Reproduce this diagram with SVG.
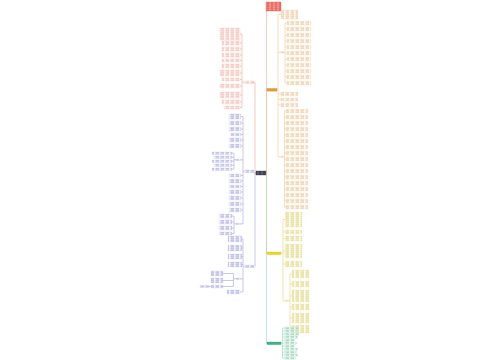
<svg xmlns="http://www.w3.org/2000/svg" width="500" height="360" viewBox="0 0 500 360">
<defs>
<pattern id="pr" width="5" height="2" patternUnits="userSpaceOnUse"><rect width="5" height="2" fill="#fffafa"/><rect x="0.5" y="0.6" width="3.6" height="0.7" fill="#e8907f"/></pattern>
<pattern id="po" width="5" height="2" patternUnits="userSpaceOnUse"><rect width="5" height="2" fill="#fffcf6"/><rect x="0.5" y="0.6" width="3.6" height="0.7" fill="#dca068"/></pattern>
<pattern id="py" width="5" height="2" patternUnits="userSpaceOnUse"><rect width="5" height="2" fill="#fffef2"/><rect x="0.5" y="0.6" width="3.6" height="0.7" fill="#cdb840"/></pattern>
<pattern id="pb" width="5" height="2" patternUnits="userSpaceOnUse"><rect width="5" height="2" fill="#f9f9fe"/><rect x="0.5" y="0.6" width="3.6" height="0.7" fill="#7474c4"/></pattern>
<pattern id="pg" width="5" height="2" patternUnits="userSpaceOnUse"><rect width="5" height="2" fill="#f6fcf9"/><rect x="0.5" y="0.6" width="3.6" height="0.7" fill="#4aa884"/></pattern>
<pattern id="pw" width="4" height="1.8" patternUnits="userSpaceOnUse"><rect width="4" height="1.8" fill="#e5453a"/><rect x="0.4" y="0.5" width="3.2" height="0.7" fill="#ffffff"/></pattern>
<pattern id="pk" width="4" height="1.8" patternUnits="userSpaceOnUse"><rect width="4" height="1.8" fill="#1e2030"/><rect x="0.4" y="0.6" width="3.2" height="0.6" fill="#d0d0d8"/></pattern>
</defs>
<style>
g.n > rect{stroke-width:.3}
g.r > rect{fill:url(#pr);stroke:#f4c4bc}
g.o > rect{fill:url(#po);stroke:#f6dcb8}
g.y > rect{fill:url(#py);stroke:#f0e6a8}
g.b > rect{fill:url(#pb);stroke:#c8c8f0}
g.g > rect{fill:url(#pg);stroke:#bce4d4}
#connectors path{fill:none;stroke-width:.6}
.cr{stroke:#eea89c}.co{stroke:#f2c890}.cy{stroke:#e6d47a}.cb{stroke:#a4a4e0}.cg{stroke:#98d4bc}
</style>
<rect width="500" height="360" fill="#ffffff"/>
<g id="connectors">
<path class="cr" d="M266.5,173V11"/>
<path class="co" d="M266.5,173V89.8H267"/>
<path class="cy" d="M266.5,173V253.3H267"/>
<path class="cg" d="M266.5,175V343.3H267"/>
<path class="cr" d="M256,173H255V82.3H254"/>
<path class="cb" d="M256,173H254"/>
<path class="cb" d="M256,173H255V266.3"/>
<path class="co" d="M277,89.8H278M278,14.5V156.8M278,14.5H281M278,52.3H280M284,52.3H285M285,23V83M285,23H287M285,29H287M285,35H287M285,41H287M285,47H287M285,53H287M285,59H287M285,65H287M285,71H287M285,77H287M285,83H287M278,94H281M278,99.5H281M278,105H281M278,156.8H279.5M283.5,156.8H284.5M284.5,111V207M284.5,111H286M284.5,117H286M284.5,123H286M284.5,129H286M284.5,135H286M284.5,141H286M284.5,147H286M284.5,153H286M284.5,159H286M284.5,165H286M284.5,171H286M284.5,177H286M284.5,183H286M284.5,189H286M284.5,195H286M284.5,201H286M284.5,207H286"/>
<path class="cy" d="M281,253.3H283M283,219.5V300.8M283,219.5H285M283,232H285M283,238.5H285M283,251H285M283,264H285M283,300.8H284.5M288.5,300.8H290M290,274V329M290,274H292M290,284H292M290,296H292M290,307H292M290,318H292M290,329H292"/>
<path class="cg" d="M281,343.3H282.5M282.5,328.1V358.1M282.5,328.1H284.5M282.5,331.1H284.5M282.5,334.1H284.5M282.5,337.1H284.5M282.5,340.1H284.5M282.5,343.1H284.5M282.5,346.1H284.5M282.5,349.1H284.5M282.5,352.1H284.5M282.5,355.1H284.5M282.5,358.1H284.5"/>
<path class="cr" d="M244,82.3H242M242,34V107.5M242,34H240M242,43H240M242,49H240M242,55H240M242,60.5H240M242,66H240M242,73H240M242,79.5H240M242,86H240M242,95H240M242,102H240M242,107.5H240"/>
<path class="cb" d="M244,171.3H243M243,116.5V223.8M243,116.5H241M243,123H241M243,129H241M243,134.5H241M243,140H241M243,146H241M243,159.8H241M236,159.8H234M234,153.2V169.2M234,153.2H232M234,157.2H232M234,161.2H232M234,165.2H232M234,169.2H232M243,175.5H241M243,181H241M243,186.5H241M243,192H241M243,198H241M243,204H241M243,210H241M243,223.8H241M236,223.8H234M234,216V233.5M234,216H232M234,222H232M234,228H232M234,233.5H232"/>
<path class="cb" d="M244,266.3H243M243,239V292M243,239H242M243,248H242M243,256.5H242M243,264.5H242M243,278.8H241M236,278.8H233.5M233.5,273.5V286.5M233.5,273.5H223M233.5,280.5H223M233.5,286.5H223M211,286.5H209M243,292H240"/>
</g>
<g id="center" class="n"><rect x="256" y="171" width="10" height="4" fill="url(#pk)" stroke="#1e2030"/></g>
<g id="title" class="n"><rect x="266" y="2" width="15" height="9" fill="url(#pw)" stroke="#e5453a"/></g>
<g id="branch-orange" class="n"><rect x="267" y="88.5" width="10" height="2.6" fill="#e49a3a" stroke="#c88020"/></g>
<g id="branch-yellow" class="n"><rect x="267" y="252" width="14" height="2.6" fill="#f0d424" stroke="#d8bc10"/></g>
<g id="branch-green" class="n"><rect x="267" y="342" width="14" height="2.6" fill="#3cb48a" stroke="#2a9a72"/></g>
<g id="branch-red" class="n r"><rect x="244" y="81" width="10" height="2.6"/></g>
<g id="branch-blue1" class="n b"><rect x="244" y="170" width="10" height="2.6"/></g>
<g id="branch-blue2" class="n b"><rect x="244" y="265" width="11" height="2.6"/></g>
<g id="o-a" class="n o"><rect x="281" y="10" width="17" height="9"/></g>
<g id="o-b" class="n o"><rect x="280" y="51.5" width="4" height="1.6"/></g>
<g id="o-b1" class="n o"><rect x="287" y="21" width="24" height="4"/></g>
<g id="o-b2" class="n o"><rect x="287" y="27" width="24" height="4"/></g>
<g id="o-b3" class="n o"><rect x="287" y="33" width="24" height="4"/></g>
<g id="o-b4" class="n o"><rect x="287" y="39" width="24" height="4"/></g>
<g id="o-b5" class="n o"><rect x="287" y="45" width="24" height="4"/></g>
<g id="o-b6" class="n o"><rect x="287" y="51" width="24" height="4"/></g>
<g id="o-b7" class="n o"><rect x="287" y="57" width="24" height="4"/></g>
<g id="o-b8" class="n o"><rect x="287" y="63" width="24" height="4"/></g>
<g id="o-b9" class="n o"><rect x="287" y="69" width="24" height="4"/></g>
<g id="o-b10" class="n o"><rect x="287" y="75" width="24" height="4"/></g>
<g id="o-b11" class="n o"><rect x="287" y="81" width="24" height="4"/></g>
<g id="o-c" class="n o"><rect x="281" y="92" width="17" height="4"/></g>
<g id="o-d" class="n o"><rect x="281" y="98" width="17" height="3"/></g>
<g id="o-e" class="n o"><rect x="281" y="103" width="17" height="4"/></g>
<g id="o-f" class="n o"><rect x="279.5" y="156" width="4" height="1.6"/></g>
<g id="o-f1" class="n o"><rect x="286" y="109" width="22" height="4"/></g>
<g id="o-f2" class="n o"><rect x="286" y="115" width="22" height="4"/></g>
<g id="o-f3" class="n o"><rect x="286" y="121" width="22" height="4"/></g>
<g id="o-f4" class="n o"><rect x="286" y="127" width="22" height="4"/></g>
<g id="o-f5" class="n o"><rect x="286" y="133" width="22" height="4"/></g>
<g id="o-f6" class="n o"><rect x="286" y="139" width="22" height="4"/></g>
<g id="o-f7" class="n o"><rect x="286" y="145" width="22" height="4"/></g>
<g id="o-f8" class="n o"><rect x="286" y="151" width="22" height="4"/></g>
<g id="o-f9" class="n o"><rect x="286" y="157" width="22" height="4"/></g>
<g id="o-f10" class="n o"><rect x="286" y="163" width="22" height="4"/></g>
<g id="o-f11" class="n o"><rect x="286" y="169" width="22" height="4"/></g>
<g id="o-f12" class="n o"><rect x="286" y="175" width="22" height="4"/></g>
<g id="o-f13" class="n o"><rect x="286" y="181" width="22" height="4"/></g>
<g id="o-f14" class="n o"><rect x="286" y="187" width="22" height="4"/></g>
<g id="o-f15" class="n o"><rect x="286" y="193" width="22" height="4"/></g>
<g id="o-f16" class="n o"><rect x="286" y="199" width="22" height="4"/></g>
<g id="o-f17" class="n o"><rect x="286" y="205" width="22" height="4"/></g>
<g id="y-1" class="n y"><rect x="285" y="212" width="17" height="15"/></g>
<g id="y-2" class="n y"><rect x="285" y="230" width="17" height="4"/></g>
<g id="y-3" class="n y"><rect x="285" y="236" width="17" height="5"/></g>
<g id="y-4" class="n y"><rect x="285" y="244" width="17" height="14"/></g>
<g id="y-5" class="n y"><rect x="285" y="261" width="17" height="6"/></g>
<g id="y-s" class="n y"><rect x="284.5" y="300" width="4" height="1.6"/></g>
<g id="y-s1" class="n y"><rect x="292" y="270" width="17" height="8"/></g>
<g id="y-s2" class="n y"><rect x="292" y="281" width="17" height="6"/></g>
<g id="y-s3" class="n y"><rect x="292" y="290" width="17" height="12"/></g>
<g id="y-s4" class="n y"><rect x="292" y="304" width="17" height="6"/></g>
<g id="y-s5" class="n y"><rect x="292" y="313" width="17" height="10"/></g>
<g id="y-s6" class="n y"><rect x="292" y="325" width="17" height="8"/></g>
<g id="g-1" class="n g"><rect x="284.5" y="327" width="14" height="2.2"/></g>
<g id="g-2" class="n g"><rect x="284.5" y="330" width="12" height="2.2"/></g>
<g id="g-3" class="n g"><rect x="284.5" y="333" width="14" height="2.2"/></g>
<g id="g-4" class="n g"><rect x="284.5" y="336" width="13" height="2.2"/></g>
<g id="g-5" class="n g"><rect x="284.5" y="339" width="10" height="2.2"/></g>
<g id="g-6" class="n g"><rect x="284.5" y="342" width="12" height="2.2"/></g>
<g id="g-7" class="n g"><rect x="284.5" y="345" width="10" height="2.2"/></g>
<g id="g-8" class="n g"><rect x="284.5" y="348" width="13" height="2.2"/></g>
<g id="g-9" class="n g"><rect x="284.5" y="351" width="12" height="2.2"/></g>
<g id="g-10" class="n g"><rect x="284.5" y="354" width="13" height="2.2"/></g>
<g id="g-11" class="n g"><rect x="284.5" y="357" width="11" height="2.2"/></g>
<g id="r-1" class="n r"><rect x="220" y="28" width="20" height="12"/></g>
<g id="r-2" class="n r"><rect x="222" y="41" width="18" height="4"/></g>
<g id="r-3" class="n r"><rect x="222" y="47" width="18" height="4"/></g>
<g id="r-4" class="n r"><rect x="222" y="53" width="18" height="4"/></g>
<g id="r-5" class="n r"><rect x="222" y="59" width="18" height="3"/></g>
<g id="r-6" class="n r"><rect x="222" y="64" width="18" height="4"/></g>
<g id="r-7" class="n r"><rect x="220" y="70" width="20" height="6"/></g>
<g id="r-8" class="n r"><rect x="222" y="78" width="18" height="3"/></g>
<g id="r-9" class="n r"><rect x="220" y="84" width="20" height="4"/></g>
<g id="r-10" class="n r"><rect x="220" y="92" width="20" height="6"/></g>
<g id="r-11" class="n r"><rect x="222" y="100" width="18" height="4"/></g>
<g id="r-12" class="n r"><rect x="224" y="106" width="16" height="3"/></g>
<g id="b-1" class="n b"><rect x="229" y="114" width="12" height="5"/></g>
<g id="b-2" class="n b"><rect x="229" y="121" width="12" height="4"/></g>
<g id="b-3" class="n b"><rect x="229" y="127" width="12" height="4"/></g>
<g id="b-4" class="n b"><rect x="231" y="133" width="10" height="3"/></g>
<g id="b-5" class="n b"><rect x="229" y="138" width="12" height="4"/></g>
<g id="b-6" class="n b"><rect x="229" y="144" width="12" height="4"/></g>
<g id="b-s" class="n b"><rect x="236" y="159" width="5" height="1.6"/></g>
<g id="b-s1" class="n b"><rect x="212" y="152" width="20" height="2.5"/></g>
<g id="b-s2" class="n b"><rect x="214" y="156" width="18" height="2.5"/></g>
<g id="b-s3" class="n b"><rect x="212" y="160" width="20" height="2.5"/></g>
<g id="b-s4" class="n b"><rect x="214" y="164" width="18" height="2.5"/></g>
<g id="b-s5" class="n b"><rect x="212" y="168" width="20" height="2.5"/></g>
<g id="b-7" class="n b"><rect x="229" y="174" width="12" height="3"/></g>
<g id="b-8" class="n b"><rect x="229" y="179" width="12" height="4"/></g>
<g id="b-9" class="n b"><rect x="229" y="185" width="12" height="3"/></g>
<g id="b-10" class="n b"><rect x="229" y="190" width="12" height="4"/></g>
<g id="b-11" class="n b"><rect x="229" y="196" width="12" height="4"/></g>
<g id="b-12" class="n b"><rect x="229" y="202" width="12" height="4"/></g>
<g id="b-13" class="n b"><rect x="229" y="208" width="12" height="4"/></g>
<g id="b-t" class="n b"><rect x="236" y="223" width="5" height="1.6"/></g>
<g id="b-t1" class="n b"><rect x="219" y="214" width="13" height="4"/></g>
<g id="b-t2" class="n b"><rect x="219" y="220" width="13" height="4"/></g>
<g id="b-t3" class="n b"><rect x="219" y="226" width="13" height="4"/></g>
<g id="b-t4" class="n b"><rect x="219" y="232" width="13" height="3"/></g>
<g id="d-1" class="n b"><rect x="228" y="236" width="14" height="6"/></g>
<g id="d-2" class="n b"><rect x="228" y="245" width="14" height="6"/></g>
<g id="d-3" class="n b"><rect x="228" y="254" width="14" height="5"/></g>
<g id="d-4" class="n b"><rect x="228" y="262" width="14" height="5"/></g>
<g id="d-s" class="n b"><rect x="236" y="278" width="5" height="1.6"/></g>
<g id="d-s1" class="n b"><rect x="211" y="271" width="12" height="5"/></g>
<g id="d-s2" class="n b"><rect x="211" y="278" width="12" height="5"/></g>
<g id="d-s3" class="n b"><rect x="211" y="285" width="12" height="3"/></g>
<g id="d-s4" class="n b"><rect x="200" y="285.5" width="9" height="2"/></g>
<g id="d-5" class="n b"><rect x="227" y="290" width="13" height="4"/></g>
</svg>
